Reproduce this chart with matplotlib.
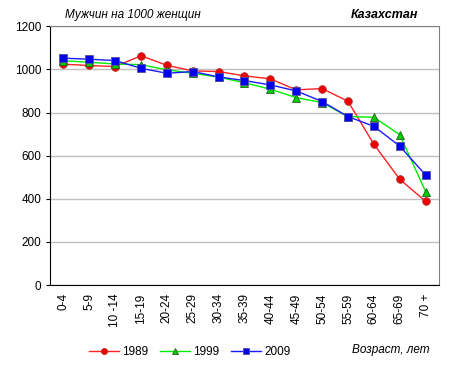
import matplotlib
matplotlib.use("Agg")
import matplotlib.pyplot as plt
import numpy as np

plt.rcParams["font.family"] = ["Liberation Sans", "DejaVu Sans"]

ages = ["0-4", "5-9", "10 -14", "15-19", "20-24", "25-29", "30-34", "35-39",
        "40-44", "45-49", "50-54", "55-59", "60-64", "65-69", "70 +"]
y1989 = [1024, 1018, 1013, 1063, 1019, 993, 990, 970, 956, 905, 911, 852, 653, 490, 388]
y1999 = [1040, 1033, 1025, 1022, 998, 982, 964, 938, 908, 869, 846, 781, 778, 697, 433]
y2009 = [1052, 1047, 1041, 1005, 982, 990, 965, 948, 928, 900, 851, 781, 736, 644, 510]

fig = plt.figure(figsize=(4.54, 3.75), dpi=100)
ax = fig.add_axes([0.111, 0.24, 0.855, 0.69])

x = np.arange(len(ages))
ax.plot(x, y1989, color="#ff2020", lw=1, marker="o", ms=5.5,
        mfc="#ee0000", mec="#b03030", mew=0.6, label="1989", zorder=3)
ax.plot(x, y1999, color="#00ee00", lw=1, marker="^", ms=5.5,
        mfc="#00cc00", mec="#206020", mew=0.6, label="1999", zorder=4)
ax.plot(x, y2009, color="#1a1aff", lw=1, marker="s", ms=5.5,
        mfc="#0000ee", mec="#5050a0", mew=0.6, label="2009", zorder=5)

ax.set_xlim(-0.5, len(ages) - 0.5)
ax.set_ylim(0, 1200)
ax.set_yticks(range(0, 1201, 200))
ax.set_xticks(x)
ax.set_xticklabels(ages, rotation=90, fontsize=8.5)
ax.tick_params(axis="y", labelsize=8.5, length=3)
ax.tick_params(axis="x", length=0, pad=6)
ax.yaxis.grid(True, color="#c0c0c0", lw=1)
ax.set_axisbelow(True)
for side in ("top", "right"):
    ax.spines[side].set_color("#808080")
for side in ("left", "bottom"):
    ax.spines[side].set_color("black")

fig.text(65 / 454, 1 - 15 / 375, "Мужчин на 1000 женщин", fontsize=8.5,
         style="italic", va="center", ha="left")
fig.text(418 / 454, 1 - 15 / 375, "Казахстан", fontsize=9,
         style="italic", weight="bold", va="center", ha="right")
fig.text(430 / 454, 1 - 350 / 375, "Возраст, лет", fontsize=8.5,
         style="italic", va="center", ha="right")

fig.legend(loc="center", bbox_to_anchor=(190 / 454, 1 - 352 / 375), ncol=3,
           frameon=False, fontsize=8.5, markerscale=0.8, handlelength=2.5,
           handletextpad=0.3, columnspacing=1.0)

fig.savefig("out.png", dpi=100)
